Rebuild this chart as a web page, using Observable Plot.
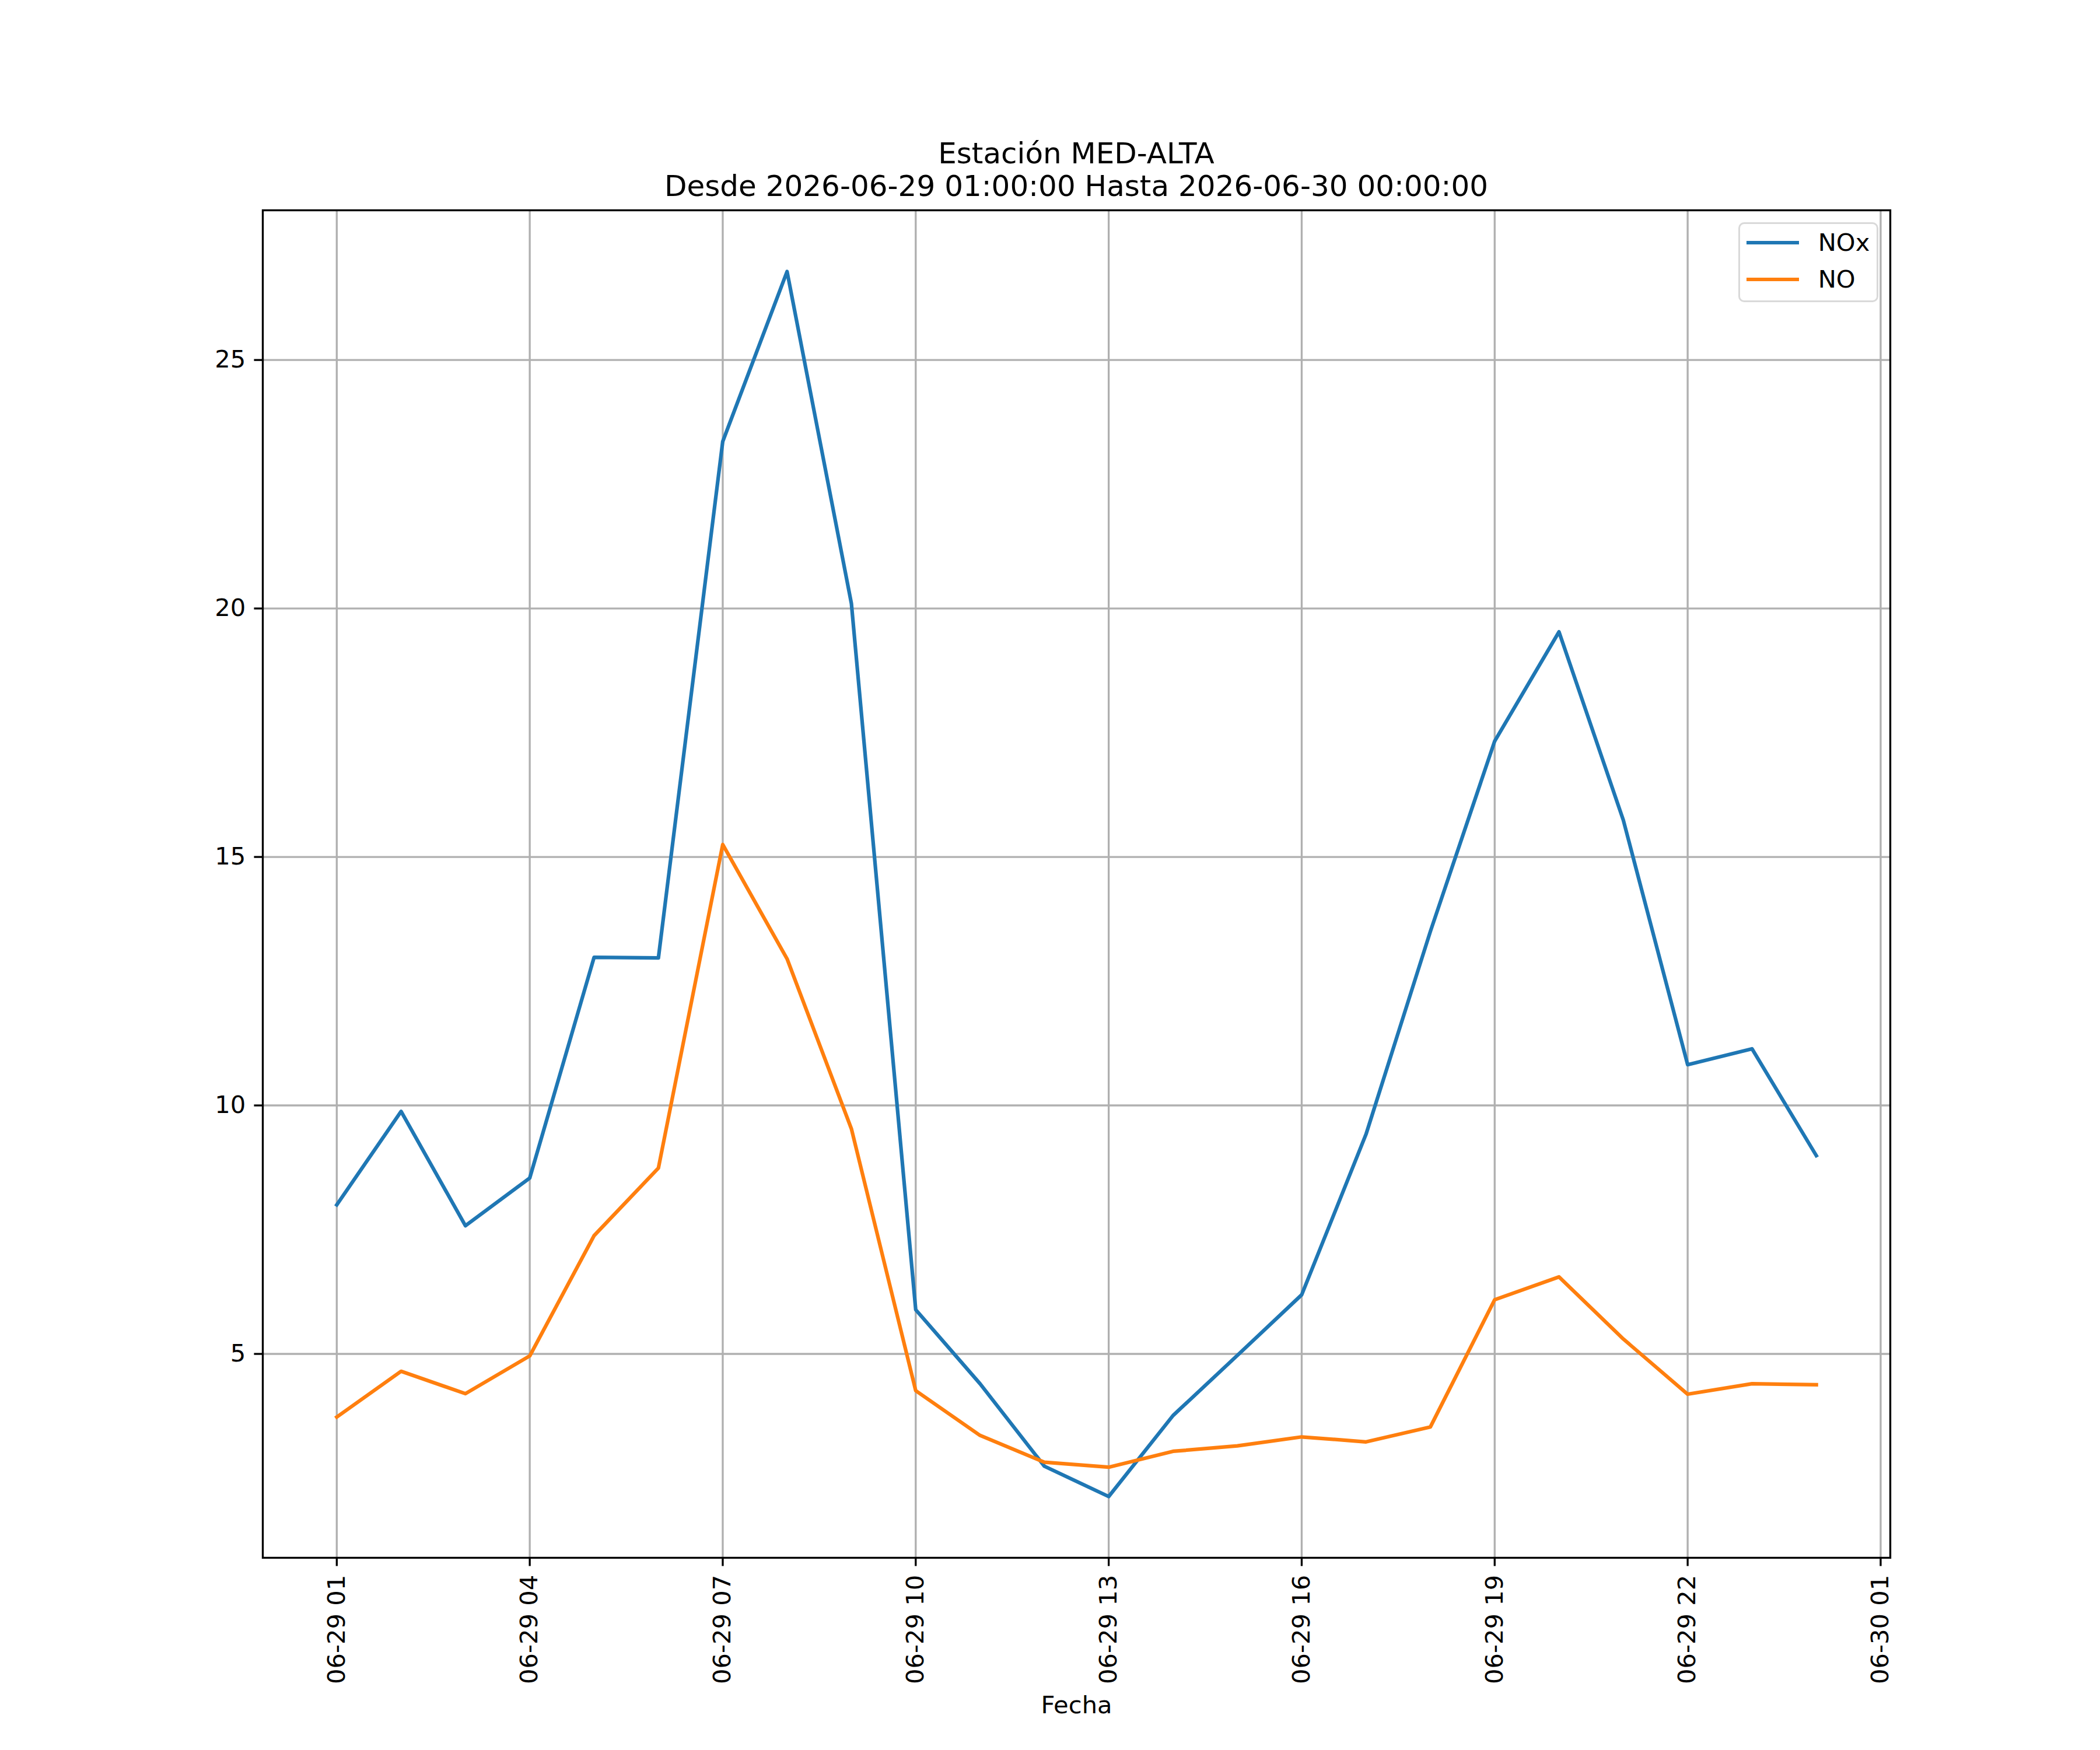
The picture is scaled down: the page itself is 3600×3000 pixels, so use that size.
<!DOCTYPE html>
<html>
<head>
<meta charset="utf-8">
<script src="https://cdn.jsdelivr.net/npm/d3@7"></script>
<script src="https://cdn.jsdelivr.net/npm/@observablehq/plot@0.6"></script>
<style>
  html, body { margin: 0; padding: 0; background: #ffffff; }
  #fig { position: relative; width: 3600px; height: 3000px; padding-top: 350px; box-sizing: border-box; background: #ffffff; font-family: "DejaVu Sans", sans-serif; }
  #title { position: absolute; left: 450px; width: 2790px; top: 235px; text-align: center; font-size: 50px; line-height: 56px; color: #000; white-space: nowrap; }
  #legend { position: absolute; left: 2980px; top: 381px; width: 240px; height: 137px; box-sizing: border-box; border: 3.33px solid #d9d9d9; border-radius: 10px; background: rgba(255,255,255,0.8); }
  .sw { position: absolute; left: 10.7px; width: 90px; height: 6.25px; }
  .lt { position: absolute; left: 133.7px; font-size: 41.67px; line-height: 41.67px; color: #000; white-space: nowrap; }
  svg { display: block; }
</style>
</head>
<body>
<div id="fig">
  <div id="title"></div>
  <div id="legend"></div>
</div>
<script>
// ---- data ----
const titleLines = ["Estación MED-ALTA", "Desde 2026-06-29 01:00:00 Hasta 2026-06-30 00:00:00"];
const xLabel = "Fecha";
const hours = [
  "2026-06-29T01:00Z", "2026-06-29T02:00Z", "2026-06-29T03:00Z", "2026-06-29T04:00Z",
  "2026-06-29T05:00Z", "2026-06-29T06:00Z", "2026-06-29T07:00Z", "2026-06-29T08:00Z",
  "2026-06-29T09:00Z", "2026-06-29T10:00Z", "2026-06-29T11:00Z", "2026-06-29T12:00Z",
  "2026-06-29T13:00Z", "2026-06-29T14:00Z", "2026-06-29T15:00Z", "2026-06-29T16:00Z",
  "2026-06-29T17:00Z", "2026-06-29T18:00Z", "2026-06-29T19:00Z", "2026-06-29T20:00Z",
  "2026-06-29T21:00Z", "2026-06-29T22:00Z", "2026-06-29T23:00Z", "2026-06-30T00:00Z"
];
const noxValues = [8.00, 9.88, 7.58, 8.54, 12.98, 12.97, 23.36, 26.78, 20.10, 5.89, 4.40, 2.74,
                   2.13, 3.76, 4.97, 6.19, 9.42, 13.50, 17.33, 19.53, 15.74, 10.82, 11.14, 8.99];
const noValues  = [3.73, 4.65, 4.20, 4.96, 7.38, 8.74, 15.25, 12.95, 9.53, 4.26, 3.36, 2.82,
                   2.72, 3.04, 3.15, 3.33, 3.23, 3.53, 6.09, 6.55, 5.30, 4.19, 4.40, 4.38];
const seriesNames = ["NOx", "NO"];
const seriesColors = ["#1f77b4", "#ff7f0e"];
const xTicks = [
  "2026-06-29T01:00Z", "2026-06-29T04:00Z", "2026-06-29T07:00Z", "2026-06-29T10:00Z",
  "2026-06-29T13:00Z", "2026-06-29T16:00Z", "2026-06-29T19:00Z", "2026-06-29T22:00Z",
  "2026-06-30T01:00Z"
];
const yTicks = [5, 10, 15, 20, 25];

// ---- build ----
const times = hours.map(h => new Date(h));
const seriesValues = [noxValues, noValues];
const rows = seriesNames.flatMap((name, s) =>
  times.map((t, i) => ({series: name, t, v: seriesValues[s][i]})));

const [t0, t1] = d3.extent(times);
const tPad = (t1 - t0) * 0.05;
const [v0, v1] = d3.extent(rows, d => d.v);
const vPad = (v1 - v0) * 0.05;

const pt = 300 / 72; // matplotlib points -> px at 300 dpi
const fmt = d3.utcFormat("%m-%d %H");

const chart = Plot.plot({
  width: 3600,
  height: 2650,
  marginTop: 10,
  marginBottom: 330,
  marginLeft: 450,
  marginRight: 360,
  style: {fontFamily: "DejaVu Sans", fontSize: (10 * pt) + "px", background: "#ffffff", color: "#000000", overflow: "visible"},
  x: {type: "utc", domain: [new Date(+t0 - tPad), new Date(+t1 + tPad)]},
  y: {type: "linear", domain: [v0 - vPad, v1 + vPad]},
  color: {domain: seriesNames, range: seriesColors},
  marks: [
    Plot.gridX(xTicks.map(d => new Date(d)), {stroke: "#b0b0b0", strokeOpacity: 1, strokeWidth: 0.8 * pt}),
    Plot.gridY(yTicks, {stroke: "#b0b0b0", strokeOpacity: 1, strokeWidth: 0.8 * pt}),
    Plot.lineY(rows, {x: "t", y: "v", z: "series", stroke: "series", strokeWidth: 1.5 * pt, strokeLinejoin: "round", strokeLinecap: "square"}),
    Plot.frame({stroke: "#000000", strokeWidth: 0.8 * pt}),
    Plot.axisX(xTicks.map(d => new Date(d)), {
      tickFormat: fmt, tickRotate: -90, tickSize: 3.5 * pt, tickPadding: 3.5 * pt,
      strokeWidth: 0.8 * pt, label: null, fontSize: 10 * pt
    }),
    Plot.axisY(yTicks, {
      tickSize: 3.5 * pt, tickPadding: 3.5 * pt, strokeWidth: 0.8 * pt, label: null, fontSize: 10 * pt,
      tickFormat: d => String(d)
    }),
    Plot.text([xLabel], {frameAnchor: "bottom", dy: 253, fontSize: 10 * pt, lineAnchor: "middle", fill: "#000000"})
  ]
});

const fig = document.getElementById("fig");
fig.appendChild(chart);

// title
const title = document.getElementById("title");
titleLines.forEach(line => {
  const div = document.createElement("div");
  div.textContent = line;
  title.appendChild(div);
});

// legend
const legend = document.getElementById("legend");
const swTops = [28.6, 91.6];
const txtTops = [11.15, 73.75];
seriesNames.forEach((name, i) => {
  const sw = document.createElement("div");
  sw.className = "sw";
  sw.style.top = swTops[i] + "px";
  sw.style.background = seriesColors[i];
  legend.appendChild(sw);
  const tx = document.createElement("div");
  tx.className = "lt";
  tx.style.top = txtTops[i] + "px";
  tx.textContent = name;
  legend.appendChild(tx);
});
</script>
</body>
</html>
